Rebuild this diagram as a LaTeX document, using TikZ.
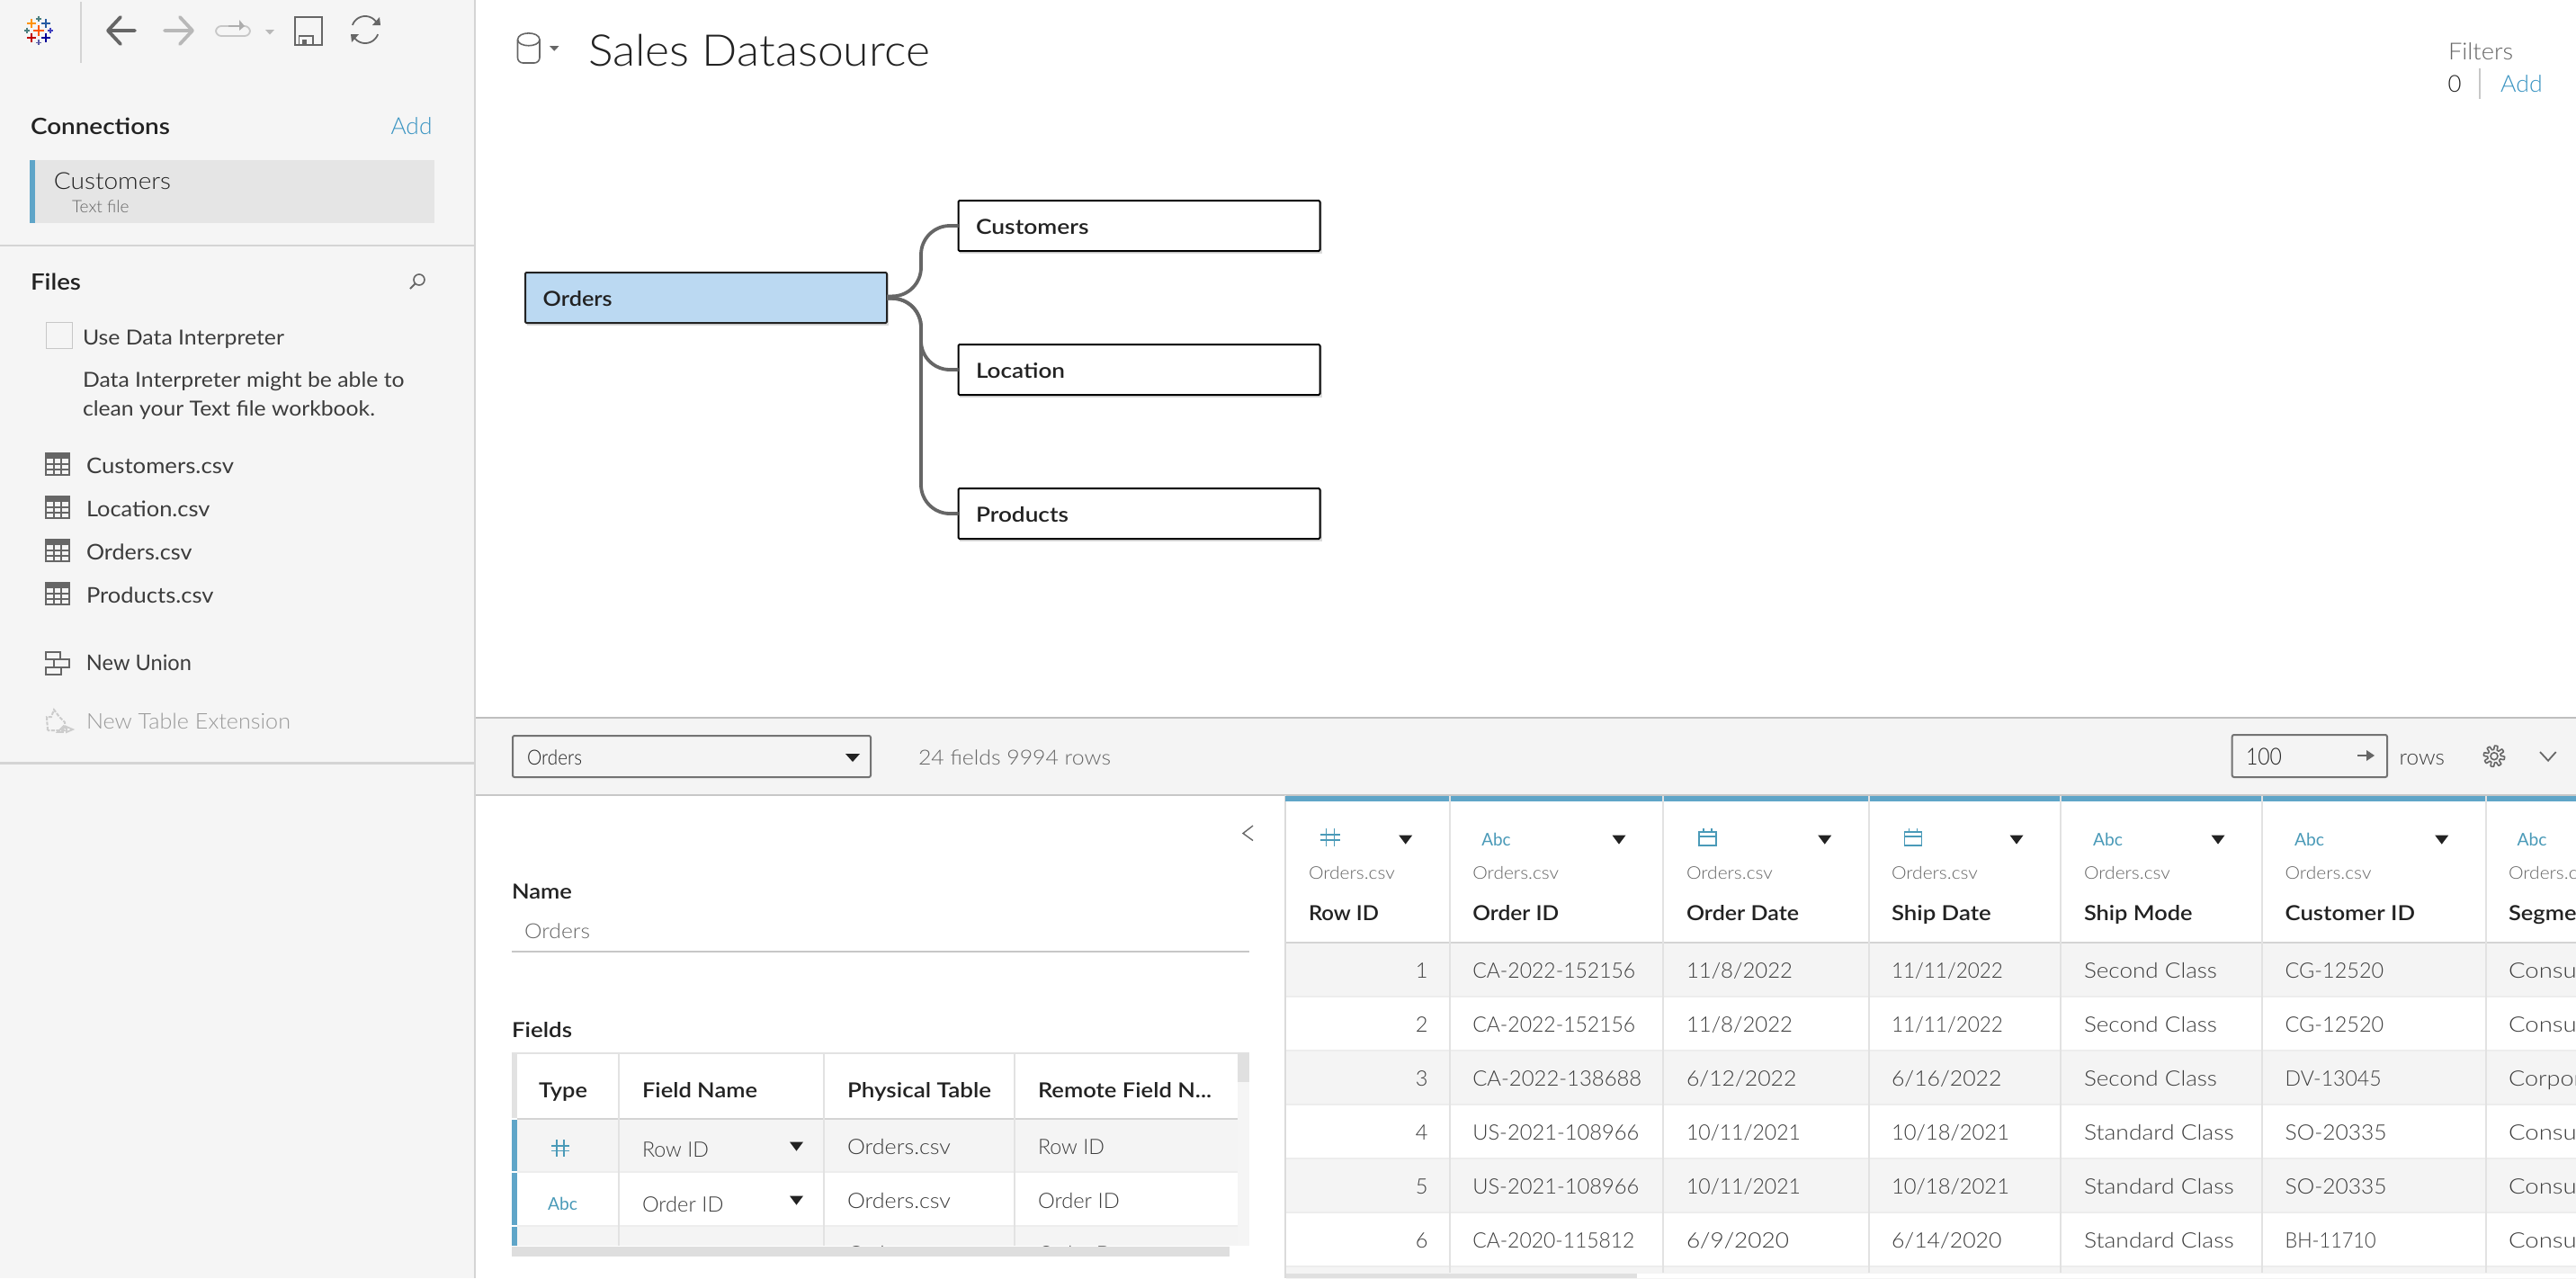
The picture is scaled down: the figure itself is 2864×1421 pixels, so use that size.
\documentclass[tikz,border=0pt]{standalone}
\usepackage{graphicx}
\usepackage{fontspec}
\setmainfont{Lato Light}[BoldFont={Lato Semibold}]
\newfontfamily\regf{Lato}
\definecolor{panel}{HTML}{F5F5F5}
\definecolor{band}{HTML}{F4F4F4}
\definecolor{rule}{HTML}{D4D4D4}
\definecolor{ink}{HTML}{222222}
\definecolor{soft}{HTML}{3C3C3C}
\definecolor{mute}{HTML}{666666}
\definecolor{faint}{HTML}{999999}
\definecolor{link}{HTML}{3A94C2}
\definecolor{bar}{HTML}{5FA5C8}
\definecolor{iconb}{HTML}{4A9AB8}
\definecolor{icon}{HTML}{666666}
\definecolor{icong}{HTML}{B8B8B8}
\definecolor{sel}{HTML}{E5E5E5}
\definecolor{ordfill}{HTML}{BBD9F2}
\definecolor{cell}{HTML}{E2E2E2}
\newcount\labn
\newcommand\fs[1]{\fontsize{#1}{#1}\selectfont}
\newcommand\lab[5][]{\global\advance\labn by 1\relax
  \node[lbl,#1] (t\the\labn) at (#2,#3+1.5) {\resizebox{\dimexpr #4pt/2\relax}{\height}{#5}};}
\newcommand\labr[4][]{\global\advance\labn by 1\relax
  \node[lbl,anchor=base east,#1] (t\the\labn) at (#2,#3+1.5) {#4};}
\newcommand\tblicon[2]{%
  \draw[icon,line width=1pt] (#1,#2) rectangle ++(26,24);
  \fill[icon] (#1,#2) rectangle ++(26,6);
  \foreach \d in {12,18} {\draw[icon,line width=.6pt] (#1,#2+\d) -- ++(26,0);}
  \foreach \d in {9,17} {\draw[icon,line width=.6pt] (#1+\d,#2+5) -- ++(0,19);}}
\newcommand\hashicon[4]{% x0,y0,w,h
  \draw[iconb,line width=.8pt] (#1+#3*.3,#2) -- ++(0,#4) (#1+#3*.7,#2) -- ++(0,#4)
    (#1,#2+#4*.36) -- ++(#3,0) (#1,#2+#4*.66) -- ++(#3,0);}
\newcommand\calicon[2]{%
  \draw[iconb,line width=.7pt] (#1,#2+4) rectangle ++(19,15) (#1,#2+9) -- ++(19,0)
    (#1+5,#2) -- ++(0,4) (#1+14,#2) -- ++(0,4);}
\newcommand\tridown[3]{% centre x, top y, half width
  \fill[ink] (#1-#3,#2) -- (#1+#3,#2) -- (#1,#2+10) -- cycle;}
\newcommand\logocross[5]{\draw[#5,line width=#4pt] (#1-#3,#2) -- (#1+#3,#2) (#1,#2-#3) -- (#1,#2+#3);}
\tikzset{
  x=.5pt,y=-.5pt,
  lbl/.style={anchor=base west,inner sep=0pt,outer sep=0pt,text=ink,font=\fs{12}},
  item/.style={text=soft,font=\regf\fs{12}},
  note/.style={text=soft,font=\regf\fs{11.5}},
  head/.style={font=\fs{12.5}\bfseries},
  data/.style={text=soft,font=\fs{11.8}},
  src/.style={text=mute,font=\fs{9.7}},
  colh/.style={font=\fs{11.5}\bfseries},
  abc/.style={text=iconb,font=\regf\fs{9.7}},
  tablebox/.style={draw=black,line width=1pt,fill=white,minimum width=201pt,minimum height=28pt,rounded corners=.6pt,inner sep=0pt,outer sep=0pt},
  joinlink/.style={draw=icon,line width=1.9pt,rounded corners=16pt},
  sepline/.style={draw=cell,line width=1pt},
  rowline/.style={draw=black!7,line width=1pt},
}
\begin{document}
\begin{tikzpicture}
\useasboundingbox (0,0) rectangle (2864,1421);
\fill[white] (0,0) rectangle (2864,1421);
% left panel
\fill[panel] (0,0) rectangle (528,1421);
\draw[draw=rule,line width=1.2pt] (528,0) -- (528,1421);
\draw[draw=rule,line width=1pt] (90,2) -- (90,70);
% logo
\logocross{42.7}{33.7}{6}{1.1}{orange!70!red}
\logocross{35}{26}{5}{.9}{orange!85!yellow}
\logocross{51}{26}{5}{.9}{teal!60!blue!70!gray}
\logocross{35}{41.7}{5}{.9}{red!75!black}
\logocross{51}{41.7}{5}{.9}{blue!60!black}
\logocross{43}{20.7}{3}{.8}{teal!40!gray}
\logocross{43}{47.3}{3}{.8}{blue!30!gray}
\logocross{30}{33.7}{3}{.8}{teal!40!gray}
\logocross{56}{33.7}{3}{.8}{blue!50!gray}
% toolbar
\draw[icon,line width=1.9pt,line cap=round,line join=round] (150,34) -- (120,34) (134,19) -- (120,34) -- (134,49);
\draw[icong,line width=1.9pt,line cap=round,line join=round] (183,34) -- (214,34) (200,19) -- (214,34) -- (200,49);
\draw[draw=black!22,line width=.9pt,rounded corners=3pt] (240,29) rectangle (278,40);
\draw[black!32,line width=.9pt] (254,29) -- (268,29);
\fill[black!32] (266,22) -- (272,29) -- (266,34) -- cycle;
\fill[icong] (295,33) -- (305,33) -- (300,38.5) -- cycle;
\draw[icon,line width=.9pt] (328,19) rectangle (358,50);
\draw[icon,line width=.9pt] (332.5,50) -- (332.5,40) -- (348,40) -- (348,50);
\fill[icon] (336,44) rectangle (341,50);
\draw[icon,line width=.9pt] plot[domain=200:335,samples=30] ({406+15*cos(\x)},{33+15*sin(\x)});
\draw[icon,line width=.9pt] plot[domain=20:155,samples=30] ({406+15*cos(\x)},{33+15*sin(\x)});
\fill[icon] (423,28) -- (414,28) -- (422,19) -- cycle;
\fill[icon] (390,38) -- (399,38) -- (391,47) -- cycle;
% connections
\lab[head]{34}{148}{155}{Connections}
\lab[font=\fs{13},text=link]{434.5}{148}{46}{Add}
\fill[sel] (33,178) rectangle (483,248);
\fill[bar] (33,178) rectangle (39,248);
\lab[font=\fs{13}]{60}{209}{130}{Customers}
\lab[font=\fs{9.5},text=mute]{80}{235}{63.5}{Text file}
\draw[draw=rule,line width=1.2pt] (0,273) -- (528,273);
% files
\lab[head]{34}{320.5}{56}{Files}
\draw[icon,line width=.8pt] (466,311) circle[radius=3pt];
\draw[icon,line width=1pt] (461.5,315.5) -- (456,321);
\draw[draw=black!22,line width=.8pt,fill=panel] (51.5,358.5) rectangle (80.5,387.5);
\lab[note]{92}{382}{224}{Use Data Interpreter}
\lab[note]{92}{429}{357.5}{Data Interpreter might be able to}
\lab[note]{92}{460.5}{325}{clean your Text file workbook.}
\tblicon{51}{504}
\tblicon{51}{552}
\tblicon{51}{600}
\tblicon{51}{648}
\lab[item]{96}{524.5}{164}{Customers.csv}
\lab[item]{96}{572.5}{137.5}{Location.csv}
\lab[item]{96}{620.5}{117.5}{Orders.csv}
\lab[item]{96}{668.5}{141.6}{Products.csv}
\draw[icon,line width=1pt] (51,725) rectangle (67,733) (60,733) rectangle (77,742) (51,742) rectangle (68,750);
\lab[item]{96}{744}{117}{New Union}
\draw[draw=black!20,line width=1pt,dash pattern=on 2pt off .8pt] (53,812) -- (52,797) -- (57,797) -- (60,789) -- (66,797) -- (72,803) -- (72,812) -- cycle;
\draw[draw=black!20,line width=.9pt] (64,814) -- (70,808) -- (70,814) -- cycle (74,808) -- (81,811) -- (74,814) -- cycle;
\lab[text=faint]{96}{808.5}{227}{New Table Extension}
\draw[draw=rule,line width=1.2pt] (0,848.6) -- (528,848.6);
% title
\draw[icon,line width=.8pt,rounded corners=3pt] (575.5,44) -- (575.5,70) -- (600,70) -- (600,44);
\draw[icon,line width=.8pt] (575.5,44) .. controls (576,34.5) and (599.5,34.5) .. (600,44) .. controls (599.5,53) and (576,53) .. (575.5,44);
\fill[icon] (611,51) -- (621.6,51) -- (616.3,56.7) -- cycle;
\lab[font=\fs{24.3},text=ink]{654}{72}{380}{Sales Datasource}
\lab[font=\fs{13},text=mute]{2722}{64.5}{72}{Filters}
\lab[font=\fs{13}]{2721.7}{101.2}{15}{0}
\draw[draw=black!22,line width=1pt] (2756.7,76) -- (2756.7,110);
\lab[font=\fs{13},text=link]{2780}{101.2}{46.7}{Add}
% join canvas
\fill[black!14] (586,305) rectangle (988,362);
\fill[black!14] (1067,225) rectangle (1470,282);
\fill[black!14] (1067,385) rectangle (1470,442);
\fill[black!14] (1067,545) rectangle (1470,602);
\node[tablebox,fill=ordfill,draw=ink] (orders) at (785,331) {};
\node[tablebox] (customers) at (1266.5,251) {};
\node[tablebox] (location) at (1266.5,411) {};
\node[tablebox] (products) at (1266.5,571) {};
\draw[joinlink] ([yshift=.8pt]orders.east) -- ++(38,0) |- (customers.west);
\draw[joinlink] ([yshift=-.4pt]orders.east) -- ++(38,0) |- (location.west);
\draw[joinlink] ([yshift=-.4pt]orders.east) -- ++(38,0) |- (products.west);
\lab[font=\fs{11.5}\bfseries]{603.7}{339}{77}{Orders}
\lab[font=\fs{11.5}\bfseries]{1085}{259}{125.5}{Customers}
\lab[font=\fs{11.5}\bfseries]{1085}{419}{99}{Location}
\lab[font=\fs{11.5}\bfseries]{1085}{579}{103}{Products}
% band
\fill[band] (529,798) rectangle (2864,883);
\draw[draw=black!25,line width=1pt] (529,798) -- (2864,798);
\draw[draw=black!22,line width=1pt] (529,883.5) -- (2864,883.5);
\draw[draw=black!55,line width=1pt,rounded corners=1pt] (570,818) rectangle (968,864);
\lab[font=\fs{11.5}]{586}{849}{61}{Orders}
\fill[ink] (940,838) -- (956,838) -- (948,847) -- cycle;
\lab[font=\fs{11.5},text=mute]{1021}{849}{214}{24 fields 9994 rows}
\draw[draw=black!55,line width=1pt,rounded corners=1pt] (2481.7,817) rectangle (2654,864);
\lab[font=\fs{13},text=ink]{2497}{849}{40}{100}
\draw[icon,line width=.8pt] (2621,840) -- (2636,840);
\fill[icon] (2631,834) -- (2640,840) -- (2631,846) -- cycle;
\lab[font=\fs{12},text=soft]{2667.7}{849}{50.3}{rows}
\draw[icon,line width=.8pt] plot[domain=0:360,samples=145,smooth] ({2773+(9.5+2.2*max(-1,min(1,2.5*sin(8*\x))))*cos(\x)},{840.7+(9.5+2.2*max(-1,min(1,2.5*sin(8*\x))))*sin(\x)});
\draw[icon,line width=.8pt] (2773,840.7) circle[radius=2pt];
\draw[icon,line width=.9pt] (2824,836) -- (2833,845.7) -- (2841.7,836);
% name + fields
\draw[icon,line width=.7pt] (1393,918) -- (1382,926.5) -- (1393,934.5);
\lab[colh]{569}{998}{67}{Name}
\lab[font=\fs{11.5},text=mute]{583}{1042}{73}{Orders}
\draw[draw=black!22,line width=1pt] (569,1058) -- (1389,1058);
\lab[colh]{569}{1152}{67}{Fields}
% fields table
\fill[cell] (569,1170) rectangle (1389,1172);
\fill[cell] (569,1172) rectangle (575,1243);
\fill[panel] (1375.6,1170) rectangle (1389,1385);
\fill[black!12] (1375.6,1170) rectangle (1389,1203);
\fill[band] (575,1245) rectangle (1375.6,1302);
\fill[band] (575,1364) rectangle (1375.6,1385);
\draw[draw=rule,line width=1pt] (575,1243.5) -- (1375.6,1243.5);
\draw[rowline] (575,1303) -- (1375.6,1303) (575,1363) -- (1375.6,1363);
\fill[bar] (569,1245) rectangle (575,1302);
\fill[bar] (569,1304) rectangle (575,1362);
\fill[bar] (569,1364) rectangle (575,1385);
\foreach \cx in {688,916,1128} {\draw[sepline] (\cx,1172) -- (\cx,1385);}
\lab[colh]{599}{1218.6}{54}{Type}
\lab[colh]{714}{1218.6}{128}{Field Name}
\lab[colh]{942}{1218.6}{160}{Physical Table}
\lab[colh]{1154}{1218.6}{193}{Remote Field N...}
\hashicon{613}{1267}{20}{19}
\lab[abc]{609}{1344}{33}{Abc}
\lab[data]{714}{1285}{74}{Row ID}
\lab[data]{714}{1345.5}{90.4}{Order ID}
\tridown{885.5}{1269.6}{7.5}
\tridown{885.5}{1329.6}{7.5}
\lab[data]{942}{1281.7}{115}{Orders.csv}
\lab[data]{942}{1341.7}{115}{Orders.csv}
\lab[data]{1154}{1281.7}{74}{Row ID}
\lab[data]{1154}{1341.7}{90.7}{Order ID}
\begin{scope}
\clip (575,1364) rectangle (1375,1385);
\lab[data]{942}{1401}{115}{Orders.csv}
\lab[data]{1154}{1401}{113}{Order Date}
\end{scope}
\fill[black!13] (569,1386) rectangle (1367,1397);
% data grid
\draw[draw=black!14,line width=1pt] (1429,884) -- (1429,1421);
\fill[bar] (1429,885) rectangle (2864,891);
\foreach \ry in {1049,1169,1288.6,1408} {\fill[band] (1430,\ry) rectangle (2864,\ry+58);}
\fill[white] (1430,1415.5) rectangle (2864,1421);
\draw[draw=rule,line width=1pt] (1430,1048) -- (2864,1048);
\foreach \ry in {1108,1168,1228,1288,1348,1407.5} {\draw[rowline] (1430,\ry) -- (2864,\ry);}
\foreach \cx in {1611.5,1849,2077.5,2291,2515,2763.5} {\draw[sepline] (\cx,885) -- (\cx,1415);}
\fill[black!12] (1430,1415.5) rectangle (1820,1421);
% header row
\hashicon{1468}{921}{22}{20}
\lab[abc]{1647.4}{938.6}{32.3}{Abc}
\calicon{1889}{921}
\calicon{2117.5}{921}
\lab[abc]{2327}{938.6}{33}{Abc}
\lab[abc]{2551}{938.6}{33}{Abc}
\lab[abc]{2798.5}{938.6}{33}{Abc}
\foreach \tx in {1562.7,1800,2028.7,2242,2466,2714.7} {\tridown{\tx}{928.6}{7.5}}
\foreach \tx in {1455,1637.3,1875,2103,2317,2540.6} {\lab[src]{\tx}{975.9}{95.8}{Orders.csv}}
\begin{scope}
\clip (2764,885) rectangle (2864,1415);
\lab[src]{2789}{975.9}{95.8}{Orders.csv}
\lab[colh]{2789}{1022}{99}{Segment}
\foreach \yb/\v/\w in {1086/Consumer/122,1146/Consumer/122,1206/Corporate/118,1265.5/Consumer/122,1325.5/Consumer/122,1386/Consumer/122}
  {\lab[data]{2789}{\yb}{\w}{\v}}
\end{scope}
\lab[colh]{1455}{1022}{78}{Row ID}
\lab[colh]{1637.3}{1022}{96}{Order ID}
\lab[colh]{1875}{1022}{125}{Order Date}
\lab[colh]{2103}{1022}{110.7}{Ship Date}
\lab[colh]{2317}{1022}{120.5}{Ship Mode}
\lab[colh]{2540.6}{1022}{144.4}{Customer ID}
\foreach \yb/\v in {1086/1,1146/2,1206/3,1265.5/4,1325.5/5,1386/6}
  {\labr[data]{1587.6}{\yb}{\v}}
\foreach \yb/\v/\w in {1086/CA-2022-152156/181,1146/CA-2022-152156/181,1206/CA-2022-138688/188,1265.5/US-2021-108966/185,1325.5/US-2021-108966/185,1386/CA-2020-115812/180}
  {\lab[data]{1637.3}{\yb}{\w}{\v}}
\foreach \yb/\v/\w in {1086/11\slash 8\slash 2022/118,1146/11\slash 8\slash 2022/118,1206/6\slash 12\slash 2022/122.5,1265.5/10\slash 11\slash 2021/127,1325.5/10\slash 11\slash 2021/127,1386/6\slash 9\slash 2020/114}
  {\lab[data]{1875}{\yb}{\w}{\v}}
\foreach \yb/\v/\w in {1086/11\slash 11\slash 2022/124,1146/11\slash 11\slash 2022/124,1206/6\slash 16\slash 2022/122.5,1265.5/10\slash 18\slash 2021/131,1325.5/10\slash 18\slash 2021/131,1386/6\slash 14\slash 2020/122.5}
  {\lab[data]{2103}{\yb}{\w}{\v}}
\foreach \yb/\v/\w in {1086/Second Class/148,1146/Second Class/148,1206/Second Class/148,1265.5/Standard Class/166.7,1325.5/Standard Class/166.7,1386/Standard Class/166.7}
  {\lab[data]{2317}{\yb}{\w}{\v}}
\foreach \yb/\v/\w in {1086/CG-12520/109.6,1146/CG-12520/109.6,1206/DV-13045/107,1265.5/SO-20335/113,1325.5/SO-20335/113,1386/BH-11710/101}
  {\lab[data]{2540.6}{\yb}{\w}{\v}}
\end{tikzpicture}
\end{document}
